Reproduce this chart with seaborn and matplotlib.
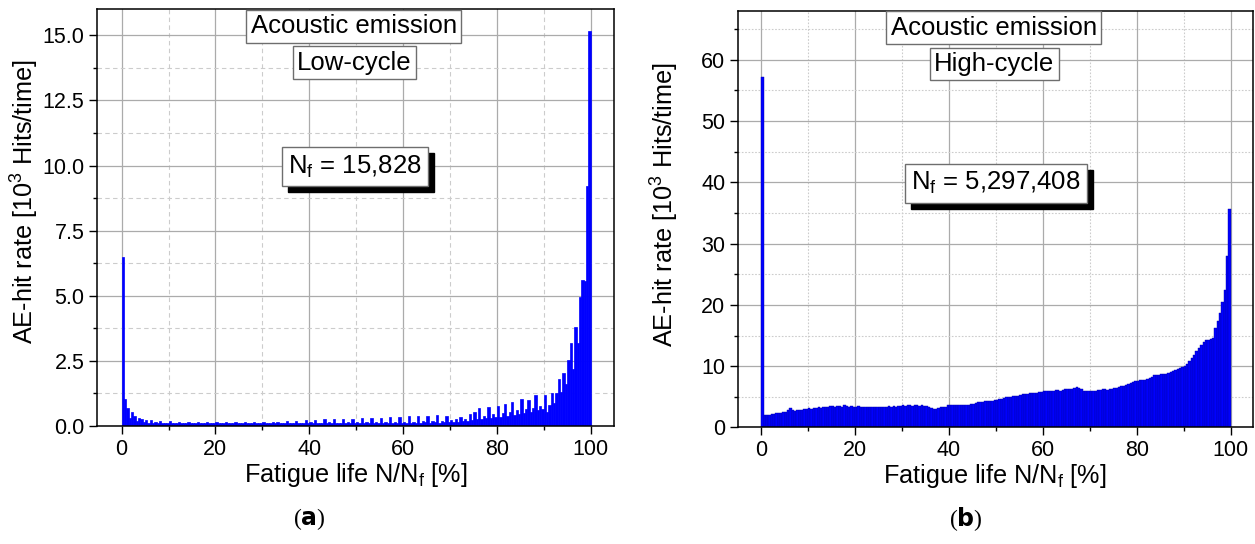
import numpy as np
import pandas as pd
import matplotlib
matplotlib.use("Agg")
import matplotlib.pyplot as plt
from matplotlib.patches import Rectangle
from matplotlib.ticker import MultipleLocator, FormatStrFormatter
import seaborn as sns

# ---------------- data ----------------
life_centers = np.arange(0.25, 100, 0.5)        # N/Nf [%], 0.5 % bins

# AE-hit rate [10^3 hits/time], low-cycle fatigue (Nf = 15,828)
low_cycle_rate = [
    6.50, 1.05, 0.70, 0.30, 0.55, 0.40, 0.20, 0.30, 0.28, 0.15,
    0.22, 0.12, 0.22, 0.10, 0.15, 0.10, 0.18, 0.10, 0.12, 0.10,
    0.20, 0.10, 0.12, 0.10, 0.14, 0.10, 0.12, 0.10, 0.15, 0.10,
    0.12, 0.10, 0.14, 0.10, 0.12, 0.10, 0.15, 0.10, 0.12, 0.10,
    0.14, 0.10, 0.12, 0.10, 0.15, 0.10, 0.12, 0.10, 0.14, 0.10,
    0.12, 0.10, 0.15, 0.10, 0.12, 0.10, 0.14, 0.10, 0.12, 0.10,
    0.15, 0.10, 0.12, 0.10, 0.14, 0.10, 0.17, 0.10, 0.12, 0.10,
    0.18, 0.11, 0.12, 0.10, 0.20, 0.10, 0.12, 0.11, 0.22, 0.10,
    0.14, 0.11, 0.24, 0.10, 0.13, 0.12, 0.25, 0.10, 0.14, 0.12,
    0.26, 0.11, 0.13, 0.12, 0.27, 0.10, 0.14, 0.12, 0.28, 0.11,
    0.15, 0.12, 0.30, 0.11, 0.14, 0.12, 0.30, 0.11, 0.15, 0.12,
    0.32, 0.11, 0.15, 0.12, 0.33, 0.12, 0.16, 0.12, 0.35, 0.12,
    0.16, 0.13, 0.38, 0.12, 0.17, 0.13, 0.40, 0.12, 0.18, 0.14,
    0.40, 0.13, 0.18, 0.14, 0.42, 0.13, 0.20, 0.15, 0.38, 0.14,
    0.22, 0.15, 0.25, 0.16, 0.35, 0.18, 0.28, 0.20, 0.45, 0.22,
    0.55, 0.25, 0.68, 0.28, 0.40, 0.30, 0.74, 0.32, 0.45, 0.35,
    0.77, 0.35, 0.50, 0.84, 0.40, 0.55, 0.93, 0.42, 0.60, 0.45,
    1.02, 0.50, 0.65, 1.00, 0.55, 0.70, 1.19, 0.60, 0.75, 0.65,
    1.19, 0.55, 0.80, 1.25, 0.90, 1.25, 1.79, 1.30, 2.02, 1.60,
    2.55, 3.17, 2.20, 3.80, 3.17, 4.96, 5.60, 5.55, 9.20, 15.15,
]

# AE-hit rate [10^3 hits/time], high-cycle fatigue (Nf = 5,297,408)
high_cycle_rate = [
    57.2, 2.0, 2.1, 2.1, 2.2, 2.2, 2.3, 2.4, 2.4, 2.5,
    2.6, 2.8, 3.1, 2.8, 2.7, 2.8, 2.9, 2.9, 3.0, 3.0,
    3.1, 3.0, 3.1, 3.2, 3.3, 3.2, 3.4, 3.3, 3.4, 3.5,
    3.5, 3.4, 3.5, 3.5, 3.4, 3.6, 3.5, 3.4, 3.5, 3.4,
    3.4, 3.5, 3.3, 3.4, 3.4, 3.3, 3.4, 3.3, 3.4, 3.3,
    3.3, 3.4, 3.3, 3.4, 3.5, 3.4, 3.5, 3.4, 3.5, 3.5,
    3.6, 3.5, 3.7, 3.6, 3.5, 3.6, 3.6, 3.5, 3.6, 3.5,
    3.5, 3.4, 3.2, 3.0, 2.95, 3.1, 3.3, 3.4, 3.4, 3.6,
    3.7, 3.6, 3.7, 3.6, 3.6, 3.7, 3.6, 3.6, 3.7, 3.8,
    3.9, 4.0, 4.1, 4.2, 4.2, 4.3, 4.3, 4.4, 4.4, 4.5,
    4.5, 4.6, 4.7, 4.8, 4.9, 5.0, 5.0, 5.1, 5.2, 5.2,
    5.3, 5.4, 5.4, 5.5, 5.6, 5.6, 5.7, 5.7, 5.8, 5.8,
    5.9, 6.0, 6.0, 5.9, 6.0, 6.1, 6.1, 6.0, 6.1, 6.2,
    6.2, 6.3, 6.3, 6.4, 6.6, 6.4, 6.2, 6.0, 5.9, 5.9,
    6.0, 6.0, 6.0, 6.1, 6.1, 6.2, 6.2, 6.1, 6.2, 6.3,
    6.4, 6.5, 6.6, 6.7, 6.8, 6.9, 7.1, 7.3, 7.5, 7.6,
    7.6, 7.7, 7.8, 7.8, 7.9, 8.1, 8.3, 8.5, 8.6, 8.6,
    8.7, 8.8, 8.8, 8.9, 9.1, 9.2, 9.4, 9.5, 9.7, 9.9,
    10.1, 10.4, 10.9, 11.3, 11.9, 12.5, 13.0, 13.5, 14.0, 14.2,
    14.3, 14.5, 14.6, 16.2, 17.3, 18.7, 20.5, 22.5, 28.0, 35.6,
]

header_text = "Acoustic emission"
regime_texts = ["Low-cycle", "High-cycle"]
nf_texts = ["15,828", "5,297,408"]
panel_letters = ["a", "b"]
x_tick_values = [0, 20, 40, 60, 80, 100]
low_y_ticks = [0.0, 2.5, 5.0, 7.5, 10.0, 12.5, 15.0]
high_y_ticks = [0, 10, 20, 30, 40, 50, 60]

low_df = pd.DataFrame({"life": life_centers, "rate": low_cycle_rate})
high_df = pd.DataFrame({"life": life_centers, "rate": high_cycle_rate})

# ---------------- style ----------------
sns.set_style("white")
plt.rcParams["font.family"] = ["Liberation Sans", "DejaVu Sans"]
plt.rcParams["mathtext.default"] = "regular"
for key in ["text.color", "axes.labelcolor", "xtick.color", "ytick.color"]:
    plt.rcParams[key] = "black"

TICK_FS = 15.5
LABEL_FS = 18.2
BOX_FS = 18.5

fig = plt.figure(figsize=(12.55, 5.44), dpi=100)
ax1 = fig.add_axes([0.0771, 0.2169, 0.4122, 0.766])
ax2 = fig.add_axes([0.5878, 0.2142, 0.4104, 0.766])


def style_axes(ax, ymax, yminor, y_ticks, yfmt, minor_ls, ylab_x, ylab_y):
    ax.set_ylim(0, ymax)
    ax.set_xticks(x_tick_values)
    ax.xaxis.set_minor_locator(MultipleLocator(10))
    ax.set_yticks(y_ticks)
    ax.yaxis.set_major_formatter(FormatStrFormatter(yfmt))
    ax.yaxis.set_minor_locator(MultipleLocator(yminor))
    ax.set_axisbelow(True)
    ax.grid(which="major", color="#ababab", linewidth=0.9, linestyle="-")
    ax.grid(which="minor", color="#cccccc", linewidth=0.8, linestyle=minor_ls)
    for sp in ax.spines.values():
        sp.set_visible(True)
        sp.set_color("black")
        sp.set_linewidth(1.1)
    ax.tick_params(which="major", direction="out", length=6, width=1.0,
                   labelsize=TICK_FS, colors="black", bottom=True, left=True,
                   pad=3)
    ax.tick_params(which="minor", direction="out", length=3, width=1.0,
                   bottom=True, left=True)
    ax.set_xlabel("Fatigue life N/N$_f$ [%]", fontsize=LABEL_FS)
    ax.set_ylabel("AE-hit rate [10$^3$ Hits/time]", fontsize=LABEL_FS)
    ax.yaxis.set_label_coords(ylab_x, ylab_y)
    ax.xaxis.set_label_coords(0.5, -0.083)


def add_boxes(ax, regime, nf, nf_x, nf_y):
    ax.text(0.497, 0.959, header_text, transform=ax.transAxes, ha="center",
            va="center", fontsize=BOX_FS, zorder=6,
            bbox=dict(boxstyle="square,pad=0.17", fc="white", ec="#6e6e6e", lw=1.0))
    ax.text(0.498, 0.872, regime, transform=ax.transAxes, ha="center",
            va="center", fontsize=BOX_FS, zorder=6,
            bbox=dict(boxstyle="square,pad=0.17", fc="white", ec="#6e6e6e", lw=1.0))
    label = "N$_f$ = " + nf
    return ax.text(nf_x, nf_y, label, transform=ax.transAxes, ha="center",
                   va="center", fontsize=BOX_FS, color="black", zorder=7,
                   bbox=dict(boxstyle="square,pad=0.25", fc="white",
                             ec="#6e6e6e", lw=1.0))


# ---------------- panel (a) ----------------
sns.histplot(data=low_df, x="life", weights="rate", binwidth=0.5, binrange=(0, 100),
             ax=ax1, color="#0000ff", alpha=1.0, edgecolor="#0000ff", linewidth=0.5)
style_axes(ax1, 16, 1.25, low_y_ticks, "%.1f", (0, (4, 3)), -0.108, 0.538)
ax1.set_xlim(-5.3, 105)
nf1 = add_boxes(ax1, regime_texts[0], nf_texts[0], 0.499, 0.622)

# ---------------- panel (b) ----------------
sns.histplot(data=high_df, x="life", weights="rate", binwidth=0.5, binrange=(0, 100),
             ax=ax2, color="#0000ff", alpha=1.0, edgecolor="#0000a8", linewidth=0.3)
style_axes(ax2, 68, 5, high_y_ticks, "%d", (0, (1.5, 1.5)), -0.111, 0.534)
ax2.set_xlim(-5.0, 104.7)
nf2 = add_boxes(ax2, regime_texts[1], nf_texts[1], 0.501, 0.586)

# panel letters
for letter, xc in zip(panel_letters, [309, 966]):
    fig.text(xc / 1255, 1 - 519 / 544, "(" + r"$\mathbf{" + letter + "}$" + ")",
             ha="center", va="center", fontsize=17,
             family=["Liberation Serif", "DejaVu Serif"])

# black drop shadows behind the Nf boxes
fig.canvas.draw()
renderer = fig.canvas.get_renderer()
for ax, t in [(ax1, nf1), (ax2, nf2)]:
    bb = t.get_bbox_patch().get_window_extent(renderer)
    inv = ax.transAxes.inverted()
    x0, y0 = inv.transform((bb.x0 + 6, bb.y0 - 6))
    x1, y1 = inv.transform((bb.x1 + 6, bb.y1 - 6))
    ax.add_patch(Rectangle((x0, y0), x1 - x0, y1 - y0, transform=ax.transAxes,
                           fc="black", ec="black", lw=1.0, zorder=6.5,
                           clip_on=False))

fig.savefig("out.png", dpi=100, facecolor="white")
